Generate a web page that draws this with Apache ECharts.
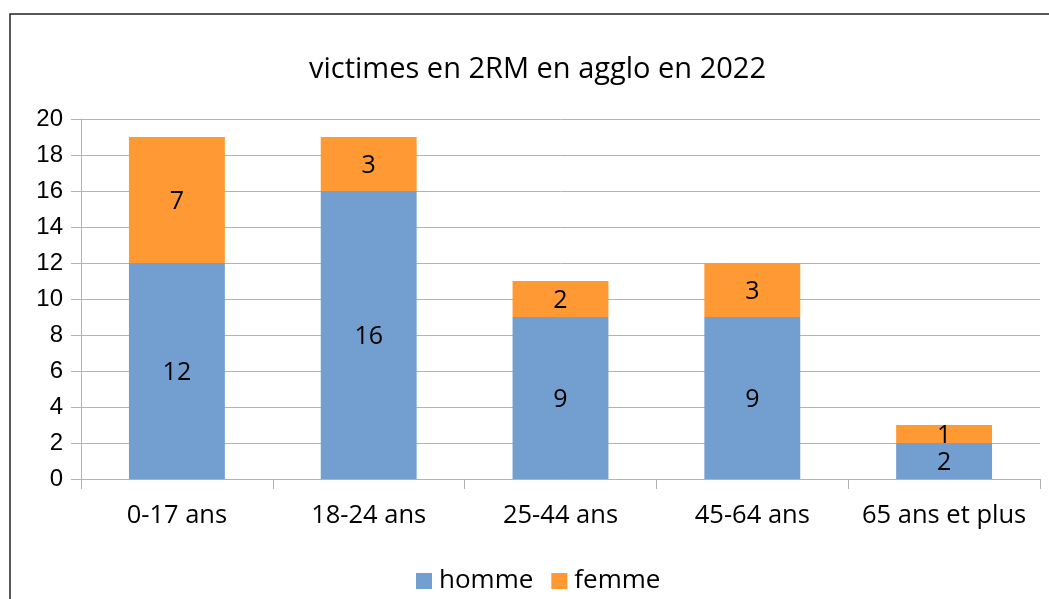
<!DOCTYPE html>
<html><head><meta charset="utf-8">
<script src="https://cdn.jsdelivr.net/npm/echarts@6/dist/echarts.min.js"></script>
<style>html,body{margin:0;padding:0;background:#fff}#c{width:1049px;height:599px}</style>
</head><body><div id="c"></div>
<script>
const categories = ['0-17 ans','18-24 ans','25-44 ans','45-64 ans','65 ans et plus'];
const homme = [12,16,9,9,2];
const femme = [7,3,2,3,1];
const titleText = 'victimes en 2RM en agglo en 2022';
const seriesNames = ['homme','femme'];

const chart = echarts.init(document.getElementById('c'), null, {renderer:'canvas'});
const F = '"Open Sans", Lato, sans-serif';
const lbl = {show:true, position:'inside', color:'#000', fontFamily:F, fontSize:25, offset:[0,2]};
chart.setOption({
  animation:false,
  color:['#729fcf','#ff9933'],
  title:{text:titleText, left:304, top:50, textStyle:{fontFamily:F, fontWeight:'normal', fontSize:29, color:'#000'}},
  graphic:[{type:'rect', shape:{x:10, y:14, width:1200, height:800}, style:{fill:'none', stroke:'#222', lineWidth:1.5}, silent:true}],
  legend:{bottom:0, left:411, itemWidth:16, itemHeight:16, itemGap:18, icon:'rect',
    textStyle:{fontFamily:F, fontSize:26, color:'#000', padding:[0,0,0,2]}, data:seriesNames},
  grid:{left:81, right:9, top:119, bottom:120},
  xAxis:{type:'category', data:categories,
    axisLine:{lineStyle:{color:'#b3b3b3', width:1}},
    axisTick:{show:true, length:10, interval:0, alignWithLabel:false, lineStyle:{color:'#b3b3b3'}},
    axisLabel:{fontFamily:F, fontSize:25.5, color:'#000', margin:24, interval:0}},
  yAxis:{type:'value', min:0, max:20, interval:2,
    axisLine:{show:true, lineStyle:{color:'#b3b3b3'}},
    axisTick:{show:true, length:10, lineStyle:{color:'#b3b3b3'}},
    splitLine:{lineStyle:{color:'#b3b3b3'}},
    axisLabel:{fontFamily:'"Liberation Sans", Arial, sans-serif', fontSize:24, color:'#000', margin:18}},
  series:[
    {name:'homme', type:'bar', stack:'t', data:homme, barWidth:'50%', label:lbl},
    {name:'femme', type:'bar', stack:'t', data:femme, barWidth:'50%', label:lbl}
  ]
});
</script></body></html>
